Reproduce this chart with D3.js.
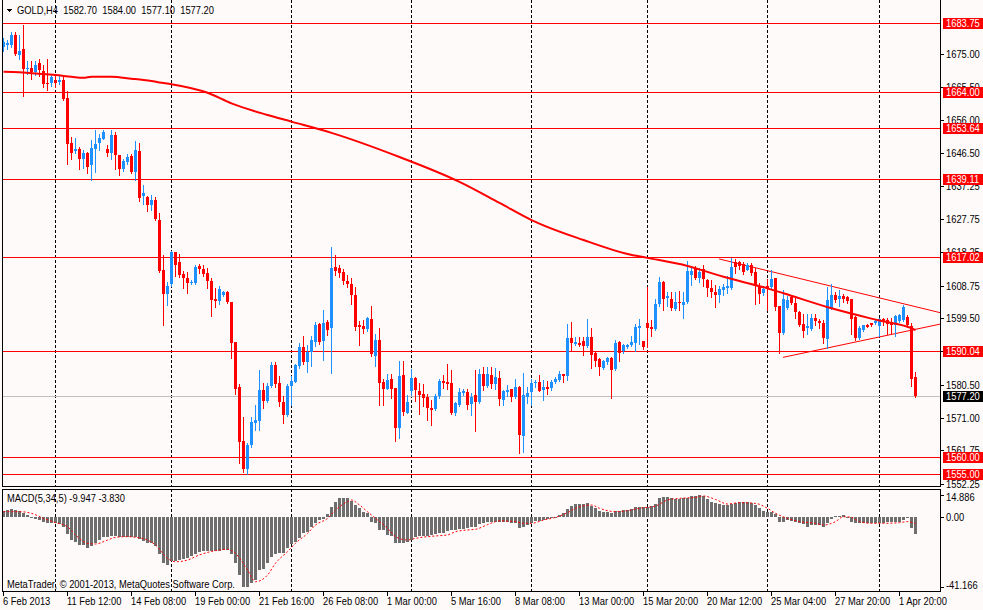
<!DOCTYPE html>
<html>
<head>
<meta charset="utf-8">
<script src="https://cdn.jsdelivr.net/npm/d3@7"></script>
<style>
    body { margin: 0; background: #fffafa; }
    text { font-family: 'Liberation Sans Narrow', 'Liberation Sans', Arial, sans-serif; font-size: 11px; fill: #000; }
</style>
</head>
<body>
<div id="chart"></div>
<script>
//------------------ data -----------------------
const symbol = "GOLD,H4";

// H4 candles, bar 0 = 6 Feb 2013 20:00
const open = [1676.9,1677.4,1677.4,1680.4,1674.7,1676.4,1670.5,1670.9,1669.8,1672.2,
    1670.1,1666.7,1666.7,1667.6,1666.8,1667.6,1662.4,1649.6,1647.1,1647.9,
    1644.8,1646.7,1643.1,1647.9,1649.5,1650.7,1647.9,1646.7,1651.9,1646.0,
    1642.0,1644.1,1645.7,1641.2,1647.3,1634.5,1634.2,1631.7,1633.3,1627.6,
    1613.2,1606.4,1609.2,1618.3,1615.4,1612.1,1610.9,1609.6,1609.5,1614.3,
    1613.5,1612.5,1610.1,1605.0,1604.4,1606.2,1607.0,1604.1,1592.7,1579.8,
    1564.5,1556.4,1563.3,1569.6,1570.2,1579.0,1575.8,1580.1,1586.2,1580.9,
    1575.6,1571.9,1580.1,1581.3,1585.9,1591.3,1587.1,1589.7,1592.6,1597.8,
    1593.1,1598.3,1596.6,1614.1,1613.8,1612.8,1610.2,1609.2,1606.2,1597.5,
    1597.3,1596.5,1599.3,1588.6,1593.3,1581.3,1579.4,1582.1,1579.5,1568.1,
    1583.3,1572.5,1578.8,1582.4,1578.8,1577.8,1577.1,1573.9,1573.5,1577.2,
    1581.5,1581.3,1581.0,1572.4,1574.7,1578.1,1578.4,1575.0,1577.5,1575.6,
    1583.5,1580.2,1583.3,1580.7,1582.4,1576.2,1578.4,1579.3,1577.0,1579.9,
    1565.9,1577.0,1578.5,1581.0,1581.3,1579.0,1579.8,1579.5,1581.3,1581.9,
    1583.5,1583.0,1593.8,1592.1,1592.4,1593.0,1591.5,1594.1,1589.5,1587.8,
    1585.4,1587.0,1588.1,1585.1,1592.7,1590.1,1591.3,1591.8,1592.4,1596.6,
    1592.9,1598.0,1597.0,1596.4,1603.5,1609.7,1605.2,1605.0,1602.1,1604.2,
    1603.3,1604.0,1611.9,1613.6,1610.9,1613.6,1610.5,1608.0,1607.1,1606.1,
    1607.5,1608.0,1608.2,1615.4,1615.4,1614.9,1613.3,1614.7,1612.6,1608.6,
    1606.6,1608.8,1608.3,1610.9,1603.1,1595.3,1602.5,1605.4,1603.7,1601.3,
    1597.8,1596.6,1596.4,1599.5,1598.7,1598.1,1593.6,1602.4,1606.1,1605.0,
    1605.9,1605.4,1605.0,1599.7,1593.8,1596.2,1597.5,1598.1,1598.1,1597.2,
    1599.3,1599.1,1598.5,1597.5,1598.8,1599.1,1599.7,1597.2,1582.70];
const high = [1679.5,1678.9,1681.2,1681.2,1680.4,1683.3,1673.0,1673.0,1672.8,1673.6,
    1671.9,1673.6,1668.8,1669.0,1668.8,1669.0,1664.4,1651.2,1651.0,1648.4,
    1647.6,1646.9,1650.3,1653.2,1652.2,1653.2,1649.0,1653.3,1652.6,1646.1,
    1645.0,1646.3,1646.3,1650.0,1649.6,1637.6,1634.5,1634.6,1634.2,1629.6,
    1617.5,1609.9,1618.7,1618.5,1617.7,1613.0,1612.6,1610.3,1614.8,1615.0,
    1614.7,1613.7,1610.9,1608.0,1608.6,1607.3,1607.2,1604.1,1592.7,1580.6,
    1571.3,1563.8,1571.3,1574.8,1584.7,1581.0,1581.1,1587.0,1587.0,1583.1,
    1577.4,1580.6,1583.1,1586.4,1592.4,1594.4,1591.8,1594.5,1598.3,1598.2,
    1601.8,1598.9,1619.8,1617.5,1614.7,1613.6,1611.8,1610.9,1608.5,1598.6,
    1598.9,1599.8,1603.0,1595.0,1596.7,1582.0,1583.5,1583.5,1579.5,1587.3,
    1587.3,1577.6,1585.1,1582.8,1581.0,1580.7,1577.8,1576.1,1577.8,1582.0,
    1583.3,1586.4,1584.7,1575.5,1579.5,1579.3,1579.2,1578.1,1584.7,1585.1,
    1585.5,1585.5,1585.5,1585.3,1584.4,1579.1,1580.4,1579.3,1582.1,1580.1,
    1583.8,1579.9,1582.1,1581.8,1583.3,1581.8,1581.6,1581.8,1582.7,1584.4,
    1583.5,1597.8,1598.4,1594.1,1594.1,1594.1,1599.3,1596.7,1590.1,1588.1,
    1587.5,1588.4,1588.4,1593.3,1593.0,1592.1,1592.1,1594.4,1597.8,1599.3,
    1593.1,1608.5,1599.0,1605.0,1611.3,1610.0,1606.9,1606.9,1606.9,1607.2,
    1606.9,1615.8,1613.9,1614.5,1613.9,1614.8,1610.8,1610.3,1609.1,1608.8,
    1609.2,1611.4,1616.7,1616.4,1615.9,1615.4,1615.2,1615.2,1613.8,1609.4,
    1608.3,1610.7,1613.2,1610.9,1603.1,1607.5,1605.9,1606.1,1605.2,1601.5,
    1600.7,1600.7,1600.7,1600.7,1599.3,1599.1,1608.3,1609.2,1606.9,1607.5,
    1606.4,1605.9,1605.0,1600.2,1597.2,1597.6,1597.8,1598.1,1599.3,1599.6,
    1599.6,1599.6,1599.5,1600.4,1600.7,1603.3,1600.4,1598.1,1584.00];
const low = [1675.7,1676.2,1676.8,1674.7,1673.4,1662.9,1669.3,1667.7,1668.8,1668.6,
    1665.6,1664.5,1665.8,1665.5,1666.3,1661.8,1643.4,1644.8,1646.7,1642.2,
    1642.5,1641.0,1638.9,1641.1,1647.6,1650.5,1645.7,1645.0,1642.1,1640.3,
    1641.4,1643.6,1641.0,1638.8,1632.9,1632.2,1630.0,1630.5,1627.6,1612.7,
    1597.5,1603.3,1608.8,1611.4,1611.3,1608.2,1606.8,1609.3,1609.2,1612.5,
    1611.5,1608.1,1600.2,1602.7,1603.6,1605.9,1603.8,1588.2,1577.8,1558.2,
    1555.7,1554.9,1562.7,1567.6,1567.5,1573.8,1575.5,1579.7,1579.9,1574.4,
    1569.6,1571.6,1574.8,1581.2,1585.4,1586.4,1584.0,1585.7,1591.6,1592.1,
    1587.6,1594.8,1583.9,1611.9,1611.3,1609.2,1608.4,1603.6,1596.0,1591.9,
    1595.3,1595.9,1588.7,1585.9,1574.8,1574.8,1579.2,1576.7,1564.5,1565.3,
    1571.8,1572.3,1577.5,1575.9,1572.2,1574.5,1570.5,1569.1,1573.3,1576.8,
    1579.5,1579.4,1572.2,1571.9,1574.5,1577.5,1573.6,1571.9,1567.2,1575.4,
    1579.1,1579.8,1579.5,1579.3,1574.8,1574.8,1577.3,1575.8,1576.7,1561.1,
    1561.4,1575.4,1574.8,1579.8,1578.7,1576.2,1577.8,1579.1,1581.0,1581.5,
    1581.3,1581.9,1590.0,1591.8,1591.5,1589.0,1591.3,1585.4,1585.8,1583.3,
    1585.1,1586.4,1576.8,1584.8,1587.3,1589.5,1591.0,1591.5,1590.1,1592.1,
    1590.7,1591.4,1594.4,1596.1,1603.1,1601.7,1603.1,1601.8,1601.8,1601.8,
    1599.6,1603.8,1609.1,1610.7,1609.7,1608.8,1605.7,1605.4,1602.6,1604.0,
    1606.1,1606.6,1607.8,1612.4,1613.5,1612.2,1613.1,1611.9,1603.4,1603.9,
    1606.2,1601.8,1607.8,1601.8,1589.5,1595.0,1602.1,1603.4,1599.6,1597.2,
    1594.1,1595.0,1596.1,1597.5,1596.6,1592.4,1591.1,1602.1,1604.1,1603.1,
    1604.1,1603.8,1595.1,1593.4,1593.5,1595.9,1596.9,1597.2,1597.8,1594.3,
    1597.5,1595.0,1595.2,1594.5,1598.3,1598.8,1596.9,1580.2,1577.10];
const close = [1678.3,1678.0,1680.4,1674.9,1675.9,1670.7,1671.0,1669.8,1671.9,1670.2,
    1666.2,1666.2,1668.4,1666.7,1667.4,1662.2,1649.1,1646.7,1647.9,1644.8,
    1646.5,1642.7,1648.2,1649.3,1651.0,1652.6,1646.7,1651.7,1646.0,1642.0,
    1644.3,1645.5,1641.2,1647.6,1633.9,1635.1,1631.7,1633.3,1627.9,1612.9,
    1606.4,1608.7,1618.5,1614.8,1611.9,1610.9,1609.4,1609.9,1614.1,1613.5,
    1612.2,1610.1,1604.7,1604.4,1607.8,1607.0,1604.0,1592.5,1579.3,1564.2,
    1556.4,1563.4,1569.8,1570.4,1579.0,1575.8,1580.1,1586.2,1580.6,1575.6,
    1571.9,1580.1,1581.6,1586.2,1591.3,1587.0,1589.7,1593.3,1597.5,1592.8,
    1598.1,1596.1,1613.8,1613.0,1612.5,1610.1,1609.2,1606.2,1597.1,1597.1,
    1596.5,1599.5,1589.4,1593.3,1581.1,1579.4,1581.8,1579.4,1568.1,1583.0,
    1572.8,1575.5,1582.4,1579.1,1577.6,1576.8,1573.9,1573.4,1577.3,1581.5,
    1581.0,1580.7,1572.4,1575.3,1578.4,1578.7,1574.8,1577.1,1575.6,1583.5,
    1580.2,1583.5,1580.7,1582.6,1576.4,1578.7,1579.0,1577.0,1579.8,1566.1,
    1577.6,1578.1,1581.0,1581.3,1578.7,1579.8,1579.3,1581.3,1582.1,1583.5,
    1583.0,1593.8,1592.5,1592.7,1591.8,1591.5,1594.1,1589.0,1587.3,1585.5,
    1587.3,1588.1,1584.8,1592.4,1589.5,1591.8,1591.8,1592.7,1597.0,1597.3,
    1591.4,1596.6,1596.4,1603.5,1609.7,1604.9,1605.7,1602.3,1604.2,1603.7,
    1604.0,1613.0,1613.0,1611.1,1612.8,1610.7,1608.0,1607.1,1606.1,1607.8,
    1608.3,1608.8,1614.2,1614.0,1614.3,1612.6,1614.7,1612.3,1608.8,1606.4,
    1607.8,1607.8,1610.7,1602.6,1595.3,1605.0,1604.7,1603.7,1601.3,1597.5,
    1595.9,1597.2,1599.5,1598.7,1598.0,1593.8,1604.7,1606.1,1604.8,1605.8,
    1605.0,1604.4,1599.3,1593.8,1596.6,1597.4,1597.1,1597.4,1598.7,1599.3,
    1598.3,1597.7,1597.5,1600.0,1600.4,1602.6,1597.4,1582.1,1577.20];

// moving average read at some bars
const maBars = [0, 4, 7, 13, 17, 20, 22, 27, 32, 35, 37, 39, 42, 51, 57, 66, 72, 82, 99, 114,
    124, 132, 145, 156, 161, 171, 180, 191, 195, 207, 219, 227, 228];
const maValues = [1669.85, 1669.7, 1669.4, 1668.9, 1668.4, 1668.1, 1668.4, 1668.4, 1667.85, 1667.5,
    1667.2, 1666.8, 1666.3, 1663.85, 1660.8, 1657.5, 1655.6, 1652.4, 1645.5, 1638.4,
    1632.4, 1627.5, 1621.8, 1617.8, 1616.7, 1614.4, 1611.3, 1608.0, 1606.6, 1602.3,
    1598.8, 1596.6, 1596.1];

// horizontal levels drawn on the chart
const levels = [1683.75, 1664.00, 1653.64, 1639.11, 1617.02, 1590.04, 1560.00, 1555.00];

// triangle trend lines, [bar, price]
const trendUpper = [[178.9, 1616.4], [234.2, 1601.05]];
const trendLower = [[194.85, 1588.3], [234.2, 1597.8]];

// price axis labels
const priceTicks = [1675.00, 1665.50, 1656.00, 1646.50, 1637.25, 1627.75, 1618.25, 1608.75,
    1599.50, 1590.00, 1580.50, 1571.00, 1561.75, 1552.25];

// week start grid lines (bar index)
const gridBars = [13, 42, 72, 102, 132, 161, 191, 219];

// time axis labels every 16 bars
const timeLabels = ["6 Feb 2013", "11 Feb 12:00", "14 Feb 08:00", "19 Feb 00:00", "21 Feb 16:00",
    "26 Feb 08:00", "1 Mar 00:00", "5 Mar 16:00", "8 Mar 08:00", "13 Mar 00:00",
    "15 Mar 20:00", "20 Mar 12:00", "25 Mar 04:00", "27 Mar 20:00", "1 Apr 20:00"];

// MACD(5,34,5) histogram
const macd = [4.1,4.7,5.2,4.7,4.1,2.5,1.6,-0.6,-1.0,-1.8,
    -2.7,-3.7,-3.7,-3.3,-4.1,-5.7,-10.0,-13.5,-14.4,-16.6,
    -16.6,-18.0,-16.8,-15.0,-13.5,-11.9,-11.9,-11.1,-10.9,-11.5,
    -11.5,-11.5,-11.5,-11.5,-13.1,-13.9,-15.0,-15.0,-17.0,-21.7,
    -26.7,-28.3,-26.0,-25.6,-25.2,-24.8,-24.2,-22.8,-21.7,-20.3,
    -19.7,-19.7,-19.7,-19.7,-19.7,-19.3,-19.3,-21.7,-26.7,-34.0,
    -41.166,-41.1,-38.8,-36.9,-31.0,-30.6,-27.1,-23.2,-21.7,-21.3,
    -20.9,-18.3,-15.8,-14.4,-12.5,-9.6,-8.6,-5.7,-3.7,-1.8,
    -1.4,2.0,6.5,10.4,12.6,13.1,12.6,11.1,8.1,5.9,
    3.6,2.5,-2.7,-3.3,-7.6,-7.6,-10.5,-11.1,-15.4,-15.0,
    -15.0,-14.4,-13.5,-11.9,-11.1,-11.1,-11.1,-10.7,-10.0,-9.6,
    -9.2,-8.0,-7.6,-7.6,-7.2,-7.2,-6.6,-5.7,-5.7,-4.1,
    -3.5,-2.7,-2.7,-2.7,-2.7,-2.7,-2.7,-3.3,-3.7,-6.2,
    -5.7,-4.7,-3.3,-2.1,-2.1,-1.8,-1.4,-0.8,0.2,1.4,
    2.5,5.2,7.4,8.8,8.8,8.8,9.2,7.4,5.9,4.3,
    3.6,3.6,2.5,4.1,4.3,4.7,4.7,5.2,6.5,7.0,
    6.5,7.0,7.4,8.8,12.6,13.8,13.8,12.6,12.0,12.0,
    12.6,12.6,14.2,14.2,14.886,14.2,12.0,10.4,9.2,8.8,
    8.1,8.1,8.8,9.2,10.4,10.4,9.9,9.7,8.1,5.9,
    4.3,3.6,3.6,1.8,-2.7,-2.7,-1.8,-2.1,-2.7,-3.7,
    -4.3,-5.7,-4.7,-4.7,-4.7,-5.7,-3.7,-1.4,0.5,1.0,
    1.2,-0.4,-2.7,-3.7,-3.7,-3.7,-3.3,-3.3,-3.3,-3.7,
    -3.3,-2.7,-2.7,-2.7,-2.7,-1.5,0.3,-6.6,-9.947];

// MACD signal line read at some bars
const signalBars = [0, 4, 7, 10, 13, 16, 18, 21, 23, 26, 28, 31, 33, 36, 38, 41, 43, 46, 49, 53,
    56, 58, 61, 63, 66, 68, 71, 73, 76, 78, 81, 83, 86, 87, 89, 91, 93, 96, 98, 101,
    103, 106, 108, 111, 113, 116, 118, 121, 123, 124, 128, 130, 132, 135, 138, 141, 143, 147, 149, 153,
    156, 159, 163, 166, 169, 173, 175, 178, 181, 184, 188, 191, 193, 196, 199, 203, 205, 208, 210, 212,
    214, 217, 220, 224, 226, 228];
const signal = [3.6, 3.6, 2.5, -0.8, -3.3, -5.7, -10.5, -15.4, -15.8, -13.5, -11.9, -11.5, -11.9, -13.5, -16.4, -24.2, -26.2, -25.2, -22.2, -19.7,
    -18.9, -21.3, -31.0, -37.9, -34.0, -27.1, -20.3, -15.4, -9.6, -4.7, -0.8, 4.7, 10.4, 11.5, 8.1, 3.6, -0.8, -6.6, -11.5, -13.5,
    -12.5, -11.5, -11.1, -10.5, -8.6, -7.6, -7.2, -4.5, -2.7, -2.3, -2.7, -3.7, -3.7, -1.8, -0.2, 2.9, 5.9, 8.1, 5.9, 3.6,
    4.3, 5.9, 7.4, 11.5, 12.6, 13.3, 14.2, 11.9, 8.8, 9.7, 9.2, 5.9, 2.5, -0.8, -2.7, -3.7, -4.7, -2.7, 0.2, -0.2,
    -2.7, -3.7, -3.7, -3.3, -2.7, -3.830];
const macdTicks = [14.886, 0, -41.166];

//------------------ layout -----------------------
const complete_width = 983,
    complete_height = 610,
    plot_left = 2,
    plot_right = 940,
    main_bottom = 487,
    macd_top = 489,
    macd_bottom = 592,
    up_color = "#1e90ff",
    down_color = "#ff0000";

const last = close.length - 1;

const svg = d3.select("#chart")
    .append("svg")
    .attr("width", complete_width)
    .attr("height", complete_height)
    .style("background", "#fffafa")
    .attr("shape-rendering", "crispEdges");

// scales
const x = d3.scaleLinear().domain([0, 234]).range([3.5, 939.5]);
const y = d3.scaleLinear().domain([1551.58, 1690.32]).range([486, 0]);
const ym = d3.scaleLinear().domain([-41.166, 0, 14.886]).range([587.3, 517, 495]);
const py = v => Math.round(y(v)) + 0.5;

// clip for both panels
const defs = svg.append("defs");
defs.append("clipPath").attr("id", "clip-main")
    .append("rect").attr("x", plot_left + 1).attr("y", 0)
    .attr("width", plot_right - plot_left - 1).attr("height", main_bottom);
defs.append("clipPath").attr("id", "clip-macd")
    .append("rect").attr("x", plot_left + 1).attr("y", macd_top + 1)
    .attr("width", plot_right - plot_left - 1).attr("height", macd_bottom - macd_top - 1);

const main = svg.append("g").attr("clip-path", "url(#clip-main)");
const lower = svg.append("g").attr("clip-path", "url(#clip-macd)");

//------------------ grid -----------------------
[[main, 0, main_bottom], [lower, macd_top, macd_bottom]].forEach(([g, y0, y1]) => {
    g.append("g").selectAll("line")
        .data(gridBars)
        .join("line")
        .attr("x1", d => x(d)).attr("x2", d => x(d))
        .attr("y1", y0).attr("y2", y1)
        .attr("stroke", "#000")
        .attr("stroke-dasharray", "3,2");
});

//------------------ price levels -----------------------
main.append("g").selectAll("line")
    .data(levels)
    .join("line")
    .attr("x1", plot_left).attr("x2", plot_right)
    .attr("y1", d => py(d)).attr("y2", d => py(d))
    .attr("stroke", "#ff0000");

// current price line
main.append("line")
    .attr("x1", plot_left).attr("x2", plot_right)
    .attr("y1", py(close[last])).attr("y2", py(close[last]))
    .attr("stroke", "#c0c0c0");

// trend lines
const trendLine = d3.line().x(d => x(d[0])).y(d => y(d[1]));
[trendUpper, trendLower].forEach(t => {
    main.append("path")
        .attr("d", trendLine(t))
        .attr("fill", "none")
        .attr("stroke", "#ff0000")
        .attr("shape-rendering", "auto")
        .attr("stroke-width", 1);
});

//------------------ candles -----------------------
const bars = d3.range(close.length);
const candle = main.append("g").selectAll("g")
    .data(bars)
    .join("g")
    .attr("fill", i => close[i] >= open[i] ? up_color : down_color)
    .attr("stroke", i => close[i] >= open[i] ? up_color : down_color);
candle.append("line")
    .attr("x1", i => x(i)).attr("x2", i => x(i))
    .attr("y1", i => Math.round(y(high[i]))).attr("y2", i => Math.round(y(low[i])) + 1);
candle.append("rect")
    .attr("stroke", "none")
    .attr("x", i => x(i) - 1.5)
    .attr("width", 3)
    .attr("y", i => Math.round(y(Math.max(open[i], close[i]))))
    .attr("height", i => Math.max(1, Math.round(y(Math.min(open[i], close[i]))) - Math.round(y(Math.max(open[i], close[i])))));

// moving average
const maLine = d3.line()
    .x((d, k) => x(maBars[k]))
    .y(d => y(d))
    .curve(d3.curveMonotoneX);
main.append("path")
    .attr("d", maLine(maValues))
    .attr("fill", "none")
    .attr("stroke", "#ff0000")
    .attr("stroke-width", 2)
    .attr("shape-rendering", "auto");

//------------------ MACD -----------------------
lower.append("g").selectAll("rect")
    .data(macd)
    .join("rect")
    .attr("x", (d, i) => x(i) - 1.5)
    .attr("width", 3)
    .attr("y", d => Math.round(Math.min(ym(d), ym(0))))
    .attr("height", d => Math.max(1, Math.round(Math.abs(ym(d) - ym(0)))))
    .attr("fill", "#6e6e6e");

const sigLine = d3.line()
    .x((d, k) => x(signalBars[k]))
    .y(d => ym(d))
    .curve(d3.curveMonotoneX);
lower.append("path")
    .attr("d", sigLine(signal))
    .attr("fill", "none")
    .attr("stroke", "#ff0000")
    .attr("stroke-dasharray", "2,2")
    .attr("shape-rendering", "auto");

//------------------ frames -----------------------
svg.append("rect")
    .attr("x", plot_left + 0.5).attr("y", -1)
    .attr("width", plot_right - plot_left).attr("height", main_bottom + 0.5)
    .attr("fill", "none").attr("stroke", "#000");
svg.append("rect")
    .attr("x", plot_left + 0.5).attr("y", macd_top + 0.5)
    .attr("width", plot_right - plot_left).attr("height", macd_bottom - macd_top - 1)
    .attr("fill", "none").attr("stroke", "#000");

//------------------ price axis -----------------------
const yAxis = svg.append("g");
yAxis.selectAll("line")
    .data(priceTicks)
    .join("line")
    .attr("x1", plot_right + 1).attr("x2", plot_right + 4)
    .attr("y1", d => py(d)).attr("y2", d => py(d))
    .attr("stroke", "#000");
yAxis.selectAll("text")
    .data(priceTicks)
    .join("text")
    .attr("x", plot_right + 6)
    .attr("y", d => py(d))
    .attr("dy", "0.36em")
    .text(d => d.toFixed(2));

// level labels
const levelLabel = svg.append("g").selectAll("g")
    .data(levels.map(v => ({ v: v, c: "#ff0000" })).concat([{ v: close[last], c: "#000" }]))
    .join("g");
levelLabel.append("rect")
    .attr("x", plot_right + 2.5)
    .attr("y", d => Math.round(y(d.v)) - 5)
    .attr("width", 40)
    .attr("height", 11)
    .attr("fill", d => d.c);
levelLabel.append("text")
    .attr("x", plot_right + 6)
    .attr("y", d => py(d.v))
    .attr("dy", "0.36em")
    .style("fill", "#fff")
    .text(d => d.v.toFixed(2));

// MACD axis
const mAxis = svg.append("g");
mAxis.selectAll("line")
    .data(macdTicks)
    .join("line")
    .attr("x1", plot_right + 1).attr("x2", plot_right + 4)
    .attr("y1", d => Math.round(ym(d)) + 0.5).attr("y2", d => Math.round(ym(d)) + 0.5)
    .attr("stroke", "#000");
mAxis.selectAll("text")
    .data(macdTicks)
    .join("text")
    .attr("x", plot_right + 6)
    .attr("y", d => Math.min(Math.max(ym(d), 497.5), 585))
    .attr("dy", "0.36em")
    .text(d => d === 0 ? "0.00" : d.toFixed(3));

//------------------ time axis -----------------------
const tAxis = svg.append("g");
tAxis.selectAll("line")
    .data(timeLabels)
    .join("line")
    .attr("x1", (d, k) => x(k * 16)).attr("x2", (d, k) => x(k * 16))
    .attr("y1", macd_bottom).attr("y2", macd_bottom + 4)
    .attr("stroke", "#000");
tAxis.selectAll("text")
    .data(timeLabels)
    .join("text")
    .attr("x", (d, k) => x(k * 16) - 0.5)
    .attr("y", 605)
    .text(d => d);

//------------------ titles -----------------------
svg.append("path")
    .attr("d", "M6.5,9 L12.5,9 L9.5,12.5 Z")
    .attr("fill", "#000");
svg.append("text")
    .attr("x", 17)
    .attr("y", 14)
    .style("white-space", "pre")
    .text(symbol + "  " + [open[last], high[last], low[last], close[last]].map(v => v.toFixed(2)).join("  "));
svg.append("text")
    .attr("x", 7)
    .attr("y", 502)
    .text("MACD(5,34,5) " + macd[last].toFixed(3) + " " + signal[signal.length - 1].toFixed(3));
svg.append("text")
    .attr("x", 7)
    .attr("y", 588)
    .text("MetaTrader, \u00a9 2001-2013, MetaQuotes Software Corp.");

// no narrow font installed: squeeze every label like the terminal's small font
svg.selectAll("text").each(function () {
    const w = this.getComputedTextLength();
    d3.select(this)
        .attr("textLength", w * 0.85)
        .attr("lengthAdjust", "spacingAndGlyphs");
});
</script>
</body>
</html>
